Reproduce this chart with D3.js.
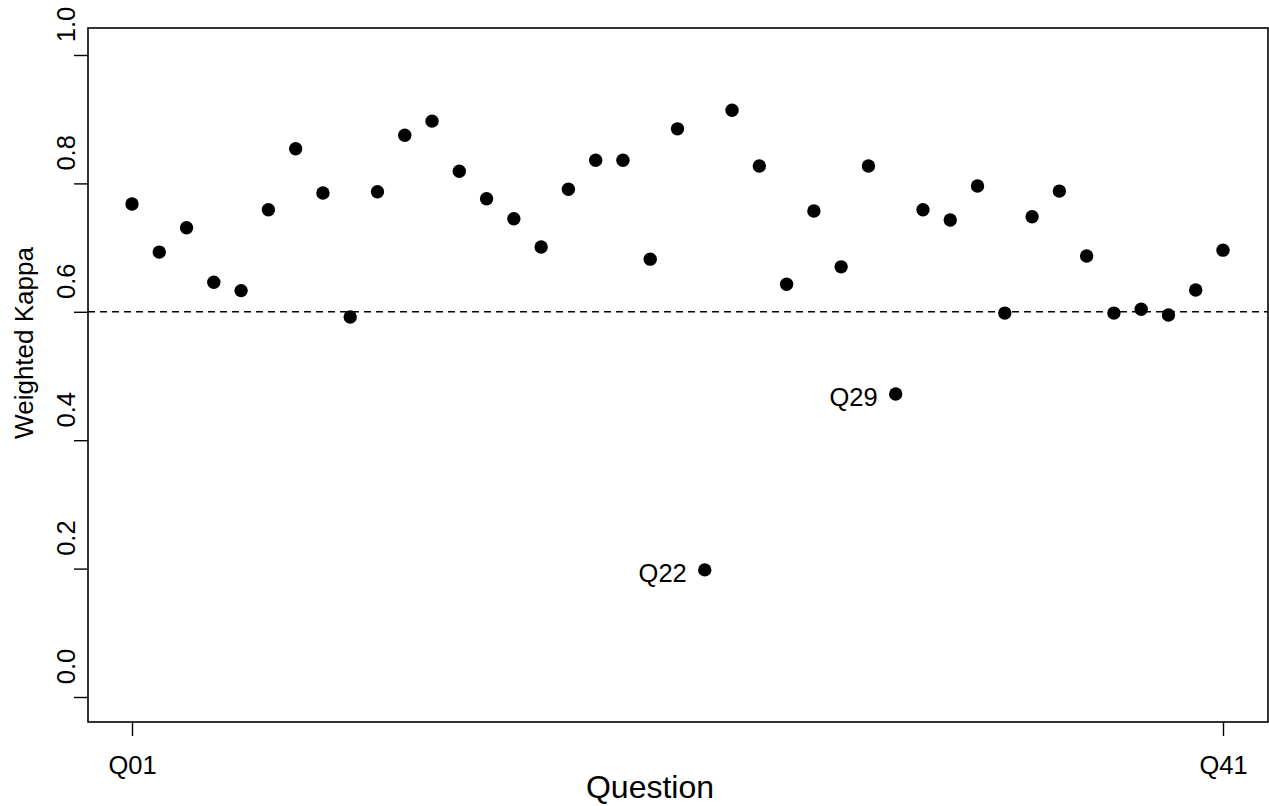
<!DOCTYPE html>
<html>
<head>
<meta charset="utf-8">
<script src="https://cdn.jsdelivr.net/npm/d3@7"></script>
<style>
  html, body { margin: 0; padding: 0; background: #fff; }
  svg { display: block; font-family: "Liberation Sans", Arial, Helvetica, sans-serif; }
</style>
</head>
<body>
<svg id="chart" width="1269" height="806"></svg>
<script>
// ---- Data ----
const questions = d3.range(1, 42).map(i => "Q" + String(i).padStart(2, "0"));
const kappa = [
  0.768, 0.693, 0.731, 0.646, 0.633, 0.759, 0.854, 0.785, 0.592, 0.787,
  0.875, 0.897, 0.819, 0.776, 0.745, 0.701, 0.791, 0.836, 0.836, 0.682,
  0.885, 0.198, 0.914, 0.827, 0.643, 0.757, 0.670, 0.827, 0.472, 0.759,
  0.743, 0.796, 0.598, 0.748, 0.788, 0.687, 0.598, 0.604, 0.595, 0.634,
  0.696
];
const yTicks = [0.0, 0.2, 0.4, 0.6, 0.8, 1.0];
const xTickLabels = ["Q01", "Q41"];
const threshold = 0.6;
const annotated = ["Q22", "Q29"];

// ---- Layout ----
const svg = d3.select("#chart");
const box = { left: 88, right: 1268, top: 28, bottom: 722 };

const x = d3.scalePoint().domain(questions).range([132, 1223]);
const y = d3.scaleLinear().domain([0, 1]).range([697, 55]);

// frame
svg.append("rect")
  .attr("x", box.left).attr("y", box.top)
  .attr("width", box.right - box.left).attr("height", box.bottom - box.top)
  .attr("fill", "none").attr("stroke", "#000").attr("stroke-width", 1.6);

// y axis
const yAxis = svg.append("g")
  .attr("transform", `translate(${box.left},0)`)
  .call(d3.axisLeft(y).tickValues(yTicks).tickFormat(d3.format(".1f")).tickSize(14));
yAxis.select(".domain").remove();
yAxis.selectAll(".tick line").attr("stroke", "#000").attr("stroke-width", 1.4);
yAxis.selectAll(".tick text")
  .attr("x", 0).attr("dy", 0)
  .attr("text-anchor", "middle")
  .attr("transform", "translate(-13,-31) rotate(-90)")
  .attr("font-size", 25.5)
  .attr("font-family", "Liberation Sans, Arial, sans-serif")
  .attr("fill", "#000");

// x axis
const xAxis = svg.append("g")
  .attr("transform", `translate(0,${box.bottom})`)
  .call(d3.axisBottom(x).tickValues(xTickLabels).tickSize(14).tickPadding(20));
xAxis.select(".domain").remove();
xAxis.selectAll(".tick line").attr("stroke", "#000").attr("stroke-width", 1.4);
xAxis.selectAll(".tick text")
  .attr("font-size", 25.5)
  .attr("font-family", "Liberation Sans, Arial, sans-serif")
  .attr("fill", "#000");

// threshold line
svg.append("line")
  .attr("x1", box.left).attr("x2", box.right)
  .attr("y1", y(threshold)).attr("y2", y(threshold))
  .attr("stroke", "#000").attr("stroke-width", 1.4)
  .attr("stroke-dasharray", "7,5");

// points
const data = questions.map((q, i) => ({ q, v: kappa[i] }));
svg.append("g").selectAll("circle")
  .data(data).join("circle")
  .attr("cx", d => x(d.q)).attr("cy", d => y(d.v))
  .attr("r", 6.7).attr("fill", "#000");

// annotations
svg.append("g").selectAll("text")
  .data(data.filter(d => annotated.includes(d.q))).join("text")
  .attr("x", d => x(d.q) - 18).attr("y", d => y(d.v) + 12.5)
  .attr("text-anchor", "end")
  .attr("font-size", 25.5)
  .attr("fill", "#000")
  .text(d => d.q);

// axis titles
svg.append("text")
  .attr("x", 650).attr("y", 798)
  .attr("text-anchor", "middle")
  .attr("font-size", 32)
  .text("Question");

svg.append("text")
  .attr("transform", "translate(33,343) rotate(-90)")
  .attr("text-anchor", "middle")
  .attr("font-size", 26)
  .text("Weighted Kappa");
</script>
</body>
</html>
